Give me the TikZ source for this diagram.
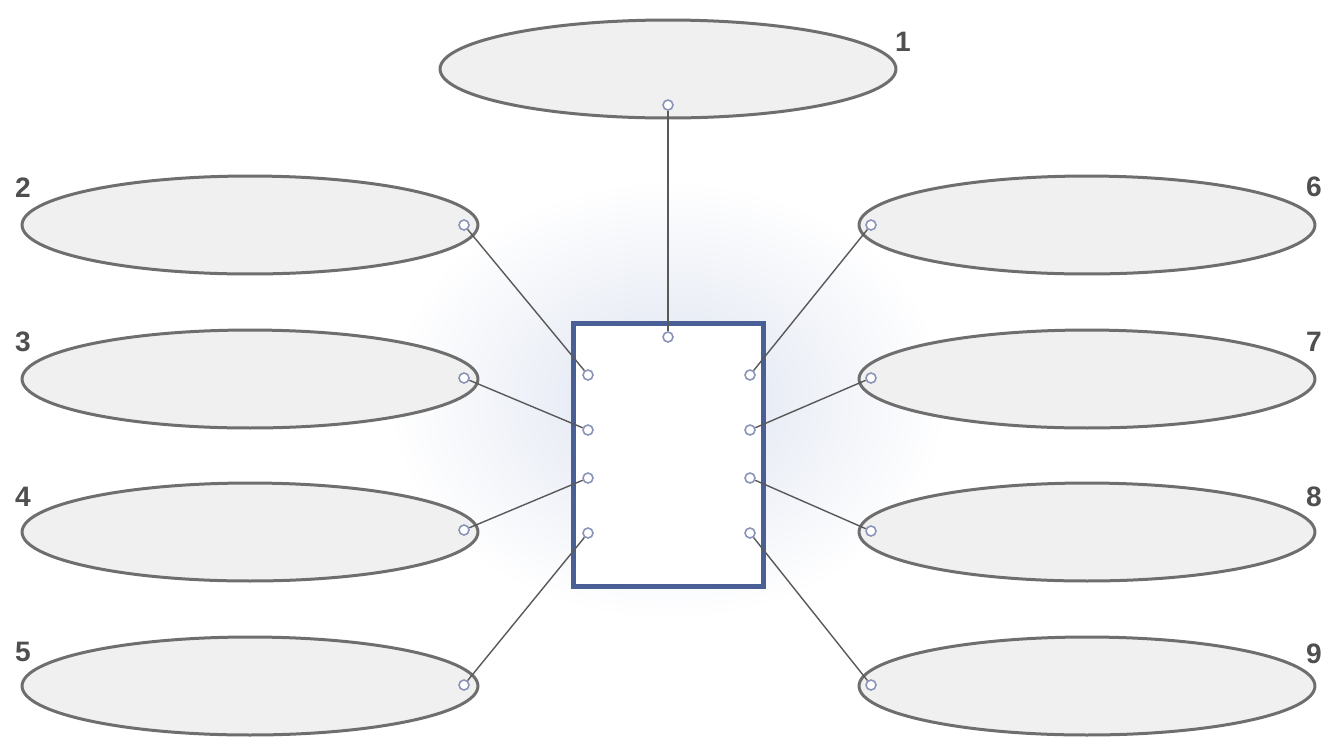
\documentclass[tikz,border=0pt]{standalone}
\usepackage{fontspec}
\setmainfont{Liberation Sans}
\usetikzlibrary{shapes.geometric, positioning}
\definecolor{rimgray}{HTML}{6E6E6E}
\definecolor{fillgray}{HTML}{F0F0F1}
\definecolor{boxblue}{HTML}{4A5F96}
\definecolor{pinblue}{HTML}{8A93B8}
\definecolor{numgray}{HTML}{4F4F4F}
\definecolor{glowblue}{HTML}{DDE3F0}

\begin{document}
\begin{tikzpicture}[x=0.02cm, y=-0.02cm,
    bubble/.style={ellipse, draw=rimgray, line width=0.06cm, fill=fillgray, minimum width=9.12cm, minimum height=1.96cm, inner sep=0pt},
    board/.style={draw=boxblue, line width=0.1cm, fill=white, minimum width=3.82cm, minimum height=5.28cm, inner sep=0pt},
    pin/.style={circle, draw=pinblue, fill=white, line width=0.9pt, minimum size=0.2cm, inner sep=0pt},
    num/.style={font=\fontsize{16}{18}\selectfont\bfseries, text=numgray, inner sep=0pt},
    wire/.style={draw=black!65, line width=0.8pt}]
    \useasboundingbox (0,0) rectangle (1333,745);
    \shade[inner color=glowblue, outer color=white] (668,400) ellipse (5.6cm and 4.4cm);

    % the nine blank bubbles
    \node[bubble] (b1) at (668,69) {};
    \node[bubble] (b2) at (250,225) {};
    \node[bubble] (b3) at (250,379) {};
    \node[bubble] (b4) at (250,532) {};
    \node[bubble] (b5) at (250,686) {};
    \node[bubble] (b6) at (1087,225) {};
    \node[bubble] (b7) at (1087,379) {};
    \node[bubble] (b8) at (1087,532) {};
    \node[bubble] (b9) at (1087,686) {};

    \node[num] (n1) at (903,42) {1};
    \node[num] (n2) at (23,188) {2};
    \node[num] (n3) at (23,342) {3};
    \node[num] (n4) at (23,497) {4};
    \node[num] (n5) at (23,652) {5};
    \node[num] (n6) at (1314,187) {6};
    \node[num] (n7) at (1314,342) {7};
    \node[num] (n8) at (1314,497) {8};
    \node[num] (n9) at (1314,654) {9};

    \node[board] (box) at (668.5,455) {};

    % pins on the bubbles
    \node[pin] (e1) at (668,105) {};
    \node[pin] (e2) at (464,225) {};
    \node[pin] (e3) at (464,378) {};
    \node[pin] (e4) at (464,530) {};
    \node[pin] (e5) at (464,685) {};
    \node[pin] (e6) at (871,225) {};
    \node[pin] (e7) at (871,378) {};
    \node[pin] (e8) at (871,531) {};
    \node[pin] (e9) at (871,685) {};

    % pins inside the box
    \node[pin] (t0) at (668,337) {};
    \node[pin] (l1) at (588,375) {};
    \node[pin] (l2) at (588,430) {};
    \node[pin] (l3) at (588,478) {};
    \node[pin] (l4) at (588,533) {};
    \node[pin] (r1) at (750,375) {};
    \node[pin] (r2) at (750,430) {};
    \node[pin] (r3) at (750,478) {};
    \node[pin] (r4) at (750,533) {};

    \draw[wire] (e1) -- (t0);
    \draw[wire] (e2) -- (l1);
    \draw[wire] (e3) -- (l2);
    \draw[wire] (e4) -- (l3);
    \draw[wire] (e5) -- (l4);
    \draw[wire] (e6) -- (r1);
    \draw[wire] (e7) -- (r2);
    \draw[wire] (e8) -- (r3);
    \draw[wire] (e9) -- (r4);
\end{tikzpicture}
\end{document}
